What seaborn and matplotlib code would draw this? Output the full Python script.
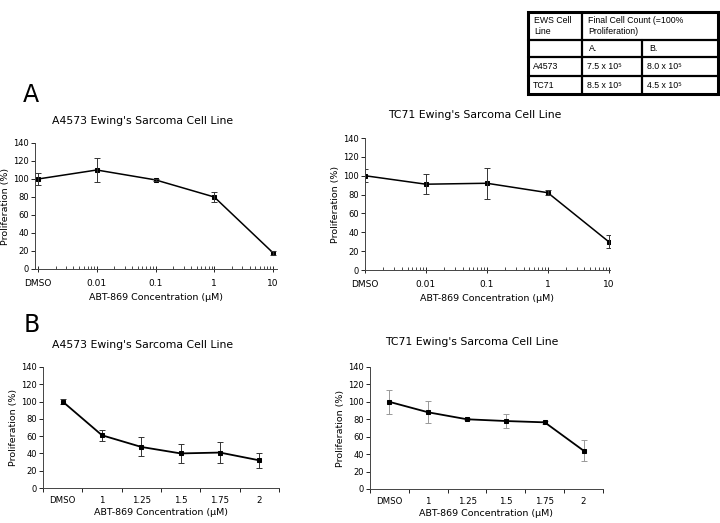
import numpy as np
import matplotlib
matplotlib.use("Agg")
import matplotlib.pyplot as plt
import seaborn as sns

# panel A: log concentrations (DMSO placed one decade below 0.01)
conc_a = [0.001, 0.01, 0.1, 1, 10]
conc_a_labels = ["DMSO", "0.01", "0.1", "1", "10"]
a4573_a = [100, 110, 99, 80, 18]
a4573_a_err = [7, 13, 1.5, 6, 2]
tc71_a = [100, 91, 92, 82, 30]
tc71_a_err = [7, 10.5, 16.5, 2.5, 7]

# panel B: categorical concentrations
conc_b = ["DMSO", "1", "1.25", "1.5", "1.75", "2"]
a4573_b = [100, 61, 47.5, 40, 41, 32]
a4573_b_err = [3, 6.5, 11, 11, 12, 9]
tc71_b = [100, 88, 80, 78, 76.5, 44]
tc71_b_err = [14, 12.5, 1, 8.5, 2, 12]

# table
table_header = ["EWS Cell\nLine", "Final Cell Count (=100%\nProliferation)"]
table_sub = ["", "A.", "B."]
table_rows = [["A4573", "7.5 x 10\u2075", "8.0 x 10\u2075"],
              ["TC71", "8.5 x 10\u2075", "4.5 x 10\u2075"]]

sns.set_style("white")
plt.rcParams['font.family'] = ['DejaVu Sans']
plt.rcParams.update({"text.color": "black", "axes.labelcolor": "black",
                     "xtick.color": "black", "ytick.color": "black"})

W, H = 720, 523
fig = plt.figure(figsize=(W / 100, H / 100), dpi=100)


def px_axes(x0, x1, top, bottom):
    return fig.add_axes([x0 / W, (H - bottom) / H, (x1 - x0) / W, (bottom - top) / H])


def style_y(ax):
    ax.set_ylim(0, 140)
    ax.set_yticks(range(0, 141, 20))
    ax.set_ylabel("Proliferation (%)", fontsize=6.8, labelpad=2)
    ax.tick_params(axis="y", direction="out", length=3, width=0.6, labelsize=6, pad=1.5, left=True)
    for s in ["top", "right"]:
        ax.spines[s].set_visible(False)
    for s in ["left", "bottom"]:
        ax.spines[s].set_color("#444444")
        ax.spines[s].set_linewidth(0.7)


def panel_a(ax, y, err, xmax):
    sns.lineplot(x=conc_a, y=y, ax=ax, color="black", lw=1.1, marker="s",
                 markersize=2.6, markeredgecolor="black")
    ax.errorbar(conc_a, y, yerr=err, fmt="none", ecolor="#333333", elinewidth=0.7,
                capsize=2.5, capthick=0.7)
    ax.set_xscale("log")
    ax.set_xlim(xmax[0], xmax[1])
    ax.set_xticks(conc_a)
    ax.set_xticklabels(conc_a_labels)
    ax.xaxis.set_minor_locator(matplotlib.ticker.LogLocator(base=10, subs=np.arange(2, 10)))
    ax.xaxis.set_minor_formatter(matplotlib.ticker.NullFormatter())
    ax.tick_params(axis="x", which="major", direction="inout", length=5, width=0.6,
                   labelsize=6.5, pad=5, bottom=True)
    ax.tick_params(axis="x", which="minor", direction="in", length=2.5, width=0.5, bottom=True)
    ax.set_xlabel("ABT-869 Concentration (\u03bcM)", fontsize=6.8, labelpad=3)
    style_y(ax)


def panel_b(ax, y, err, ecol):
    xs = np.arange(len(conc_b))
    ax.errorbar(xs, y, yerr=err, fmt="none", ecolor=ecol, elinewidth=0.7,
                capsize=2.5, capthick=0.7)
    sns.lineplot(x=xs, y=y, ax=ax, color="black", lw=1.3, marker="s",
                 markersize=2.3, markeredgecolor="black")
    ax.set_xlim(-0.5, len(conc_b) - 0.5)
    ax.set_xticks(xs)
    ax.set_xticklabels(conc_b)
    ax.set_xticks(np.arange(len(conc_b) + 1) - 0.5, minor=True)
    ax.tick_params(axis="x", which="major", length=0, labelsize=6.2, pad=6)
    ax.tick_params(axis="x", which="minor", direction="out", length=3, width=0.6, bottom=True)
    ax.set_xlabel("ABT-869 Concentration (\u03bcM)", fontsize=6.8, labelpad=2)
    style_y(ax)


ax1 = px_axes(35, 277, 143, 269)
panel_a(ax1, a4573_a, a4573_a_err, (10 ** (-3 - 3 / 58.75), 10 ** (1 + 4 / 58.75)))
ax2 = px_axes(365, 610, 138, 270)
panel_a(ax2, tc71_a, tc71_a_err, (0.001, 10.5))
ax3 = px_axes(43, 279, 367, 488)
panel_b(ax3, a4573_b, a4573_b_err, "#333333")
ax4 = px_axes(370, 603, 367, 489)
panel_b(ax4, tc71_b, tc71_b_err, "#999999")

# titles
for (cx, cy, t) in [(143, 121, "A4573 Ewing's Sarcoma Cell Line"),
                    (475, 115, "TC71 Ewing's Sarcoma Cell Line"),
                    (143, 345, "A4573 Ewing's Sarcoma Cell Line"),
                    (472, 342, "TC71 Ewing's Sarcoma Cell Line")]:
    fig.text(cx / W, 1 - cy / H, t, ha="center", va="center", fontsize=7.8)

fig.text(31 / W, 1 - 95 / H, "A", ha="center", va="center", fontsize=17)
fig.text(31.5 / W, 1 - 325 / H, "B", ha="center", va="center", fontsize=17)

# table, drawn in pixel units
tx = fig.add_axes([0, 0, 1, 1], facecolor="none")
tx.set_xlim(0, W)
tx.set_ylim(H, 0)
tx.axis("off")
x0, xa, xb, x1 = 528, 582, 642, 718
ys = [12, 40, 57, 76, 94]
tx.add_patch(plt.Rectangle((x0, ys[0]), x1 - x0, ys[-1] - ys[0], fill=False, lw=2.2, ec="black"))
for yy in ys[1:-1]:
    tx.plot([x0, x1], [yy, yy], color="black", lw=1.6)
tx.plot([xa, xa], [ys[0], ys[-1]], color="black", lw=1.6)
tx.plot([xb, xb], [ys[1], ys[-1]], color="black", lw=1.6)
tfont = dict(family="Liberation Sans", fontsize=6.3, va="center", ha="left", linespacing=1.3)
tx.text(x0 + 6, (ys[0] + ys[1]) / 2, table_header[0], **tfont)
tx.text(xa + 6, (ys[0] + ys[1]) / 2, table_header[1], **tfont)
for cx, s in zip([x0, xa, xb], table_sub):
    tx.text(cx + 7, (ys[1] + ys[2]) / 2, s, **tfont)
for r, row in enumerate(table_rows):
    for cx, s in zip([x0, xa, xb], row):
        tx.text(cx + 5, (ys[2 + r] + ys[3 + r]) / 2, s, **tfont)

fig.savefig("out.png", dpi=100)
